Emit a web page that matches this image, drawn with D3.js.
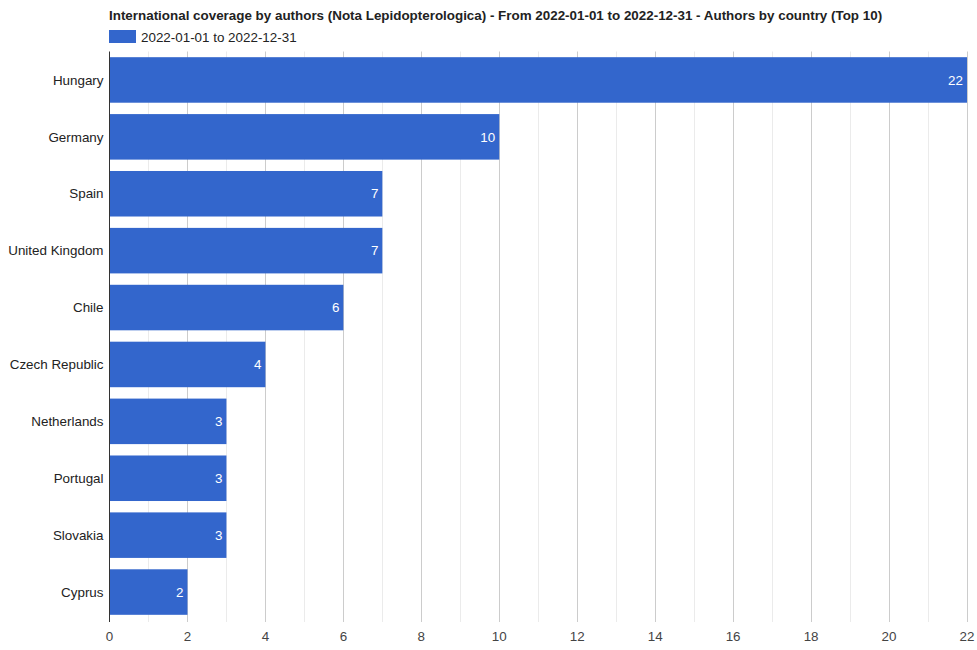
<!DOCTYPE html>
<html>
<head>
<meta charset="utf-8">
<script src="https://cdn.jsdelivr.net/npm/d3@7"></script>
<style>
  body { margin: 0; background: #fff; }
  text { font-family: Arial, "Liberation Sans", sans-serif; }
</style>
</head>
<body>
<div id="vis"></div>
<script>
const countries = ["Hungary", "Germany", "Spain", "United Kingdom", "Chile", "Czech Republic", "Netherlands", "Portugal", "Slovakia", "Cyprus"];
const authors = [22, 10, 7, 7, 6, 4, 3, 3, 3, 2];
const xTicks = [0, 2, 4, 6, 8, 10, 12, 14, 16, 18, 20, 22];
const titleText = "International coverage by authors (Nota Lepidopterologica) - From 2022-01-01 to 2022-12-31 - Authors by country (Top 10)";
const seriesName = "2022-01-01 to 2022-12-31";

var width = 977, height = 650;
var plotLeft = 109.5, plotRight = 967, plotTop = 51.5, plotBottom = 620.5;
var fs = "13.4px";

var svg = d3.select("#vis")
            .append("svg")
            .attr("width", width)
            .attr("height", height);

var x = d3.scaleLinear().domain([0, 22]).range([plotLeft, plotRight]);
var y = d3.scaleBand().domain(countries).range([plotTop, plotBottom])
          .paddingInner(0.2).paddingOuter(0.1);

// minor gridlines (odd values)
var minor = d3.range(1, 22, 2);
svg.append("g").selectAll("line").data(minor).enter().append("line")
    .attr("x1", d => Math.round(x(d)) + 0.5)
    .attr("x2", d => Math.round(x(d)) + 0.5)
    .attr("y1", plotTop)
    .attr("y2", plotBottom + 1.5)
    .attr("stroke", "#ebebeb");

// major gridlines
svg.append("g").selectAll("line").data(xTicks.slice(1)).enter().append("line")
    .attr("x1", d => Math.round(x(d)) + 0.5)
    .attr("x2", d => Math.round(x(d)) + 0.5)
    .attr("y1", plotTop)
    .attr("y2", plotBottom + 1.5)
    .attr("stroke", "#cccccc");

// bars
svg.append("g").selectAll("rect").data(countries).enter().append("rect")
    .attr("x", x(0))
    .attr("y", d => y(d))
    .attr("width", (d, i) => x(authors[i]) - x(0))
    .attr("height", y.bandwidth())
    .attr("fill", "#3366cc");

// value labels
svg.append("g").selectAll("text").data(countries).enter().append("text")
    .attr("x", (d, i) => x(authors[i]) - 4)
    .attr("y", d => y(d) + y.bandwidth() / 2)
    .attr("dy", "0.35em")
    .attr("text-anchor", "end")
    .style("font-size", fs)
    .attr("fill", "#ffffff")
    .text((d, i) => authors[i]);

// baseline
svg.append("line")
    .attr("x1", Math.round(x(0)) - 0.5)
    .attr("x2", Math.round(x(0)) - 0.5)
    .attr("y1", plotTop)
    .attr("y2", plotBottom + 1.5)
    .attr("stroke", "#333333");

// category labels
svg.append("g").selectAll("text").data(countries).enter().append("text")
    .attr("x", plotLeft - 6)
    .attr("y", d => y(d) + y.bandwidth() / 2)
    .attr("dy", "0.35em")
    .attr("text-anchor", "end")
    .style("font-size", fs)
    .attr("fill", "#222222")
    .text(d => d);

// x tick labels
svg.append("g").selectAll("text").data(xTicks).enter().append("text")
    .attr("x", d => x(d))
    .attr("y", 636)
    .attr("dy", "0.35em")
    .attr("text-anchor", "middle")
    .style("font-size", fs)
    .attr("fill", "#444444")
    .text(d => d);

// title
svg.append("text")
    .attr("x", plotLeft - 0.5)
    .attr("y", 20)
    .style("font-size", fs)
    .style("font-weight", "bold")
    .attr("fill", "#222222")
    .text(titleText);

// legend
svg.append("rect")
    .attr("x", plotLeft - 0.5)
    .attr("y", 30)
    .attr("width", 27)
    .attr("height", 13)
    .attr("fill", "#3366cc");
svg.append("text")
    .attr("x", 141)
    .attr("y", 37)
    .attr("dy", "0.35em")
    .style("font-size", fs)
    .attr("fill", "#222222")
    .text(seriesName);
</script>
</body>
</html>
